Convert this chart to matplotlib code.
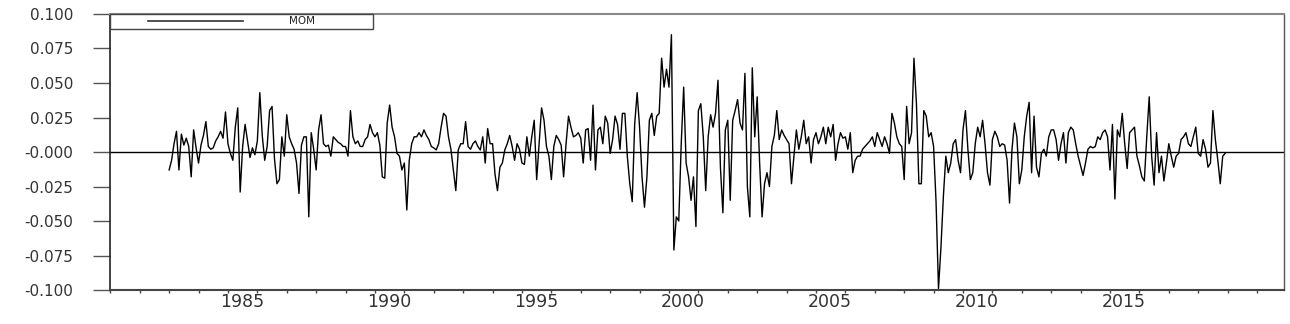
import numpy as np
import matplotlib
matplotlib.use("Agg")
import matplotlib.pyplot as plt
import matplotlib.transforms as mtransforms
from matplotlib.patches import Rectangle

# Monthly MOM factor values (Jan 1983 - Dec 2018)
start_year = 1983

mom_1983_1989 = [
    -0.013, -0.006, 0.006, 0.015, -0.013, 0.013, 0.005, 0.010, 0.004, -0.018, 0.016, 0.003,   # 1983
    -0.008, 0.005, 0.012, 0.022, 0.004, 0.002, 0.003, 0.008, 0.011, 0.015, 0.010, 0.029,      # 1984
    0.006, -0.001, -0.006, 0.018, 0.032, -0.029, 0.004, 0.020, 0.008, -0.004, 0.003, -0.002,  # 1985
    0.008, 0.043, 0.012, -0.006, 0.004, 0.030, 0.033, -0.005, -0.023, -0.020, 0.011, -0.003,  # 1986
    0.027, 0.011, 0.006, 0.002, -0.008, -0.030, 0.005, 0.011, 0.011, -0.047, 0.014, 0.002,    # 1987
    -0.013, 0.016, 0.027, 0.006, 0.004, 0.005, -0.003, 0.011, 0.009, 0.007, 0.006, 0.004,     # 1988
    0.004, -0.003, 0.030, 0.011, 0.006, 0.008, 0.004, 0.004, 0.009, 0.011, 0.020, 0.014,      # 1989
]

mom_1990s = [
    0.011, 0.014, 0.005, -0.018, -0.019, 0.021, 0.034, 0.018, 0.011, -0.001, -0.003, -0.013,  # 1990
    -0.008, -0.042, -0.006, 0.006, 0.011, 0.011, 0.014, 0.011, 0.016, 0.012, 0.009, 0.004,    # 1991
    0.003, 0.0015, 0.006, 0.018, 0.028, 0.026, 0.011, 0.002, -0.013, -0.028, 0.0015, 0.006,   # 1992
    0.006, 0.022, 0.004, 0.002, 0.006, 0.008, 0.004, 0.0015, 0.011, -0.008, 0.017, 0.006,     # 1993
    0.006, -0.016, -0.028, -0.011, -0.008, 0.0015, 0.006, 0.012, 0.004, -0.006, 0.006, 0.002, # 1994
    -0.008, -0.009, 0.011, -0.003, 0.011, 0.023, -0.020, 0.006, 0.032, 0.023, 0.004, -0.003,  # 1995
    -0.020, 0.004, 0.012, 0.009, 0.005, -0.018, 0.006, 0.026, 0.018, 0.011, 0.012, 0.014,     # 1996
    0.010, -0.008, 0.016, 0.017, -0.006, 0.034, -0.013, 0.016, 0.018, 0.006, 0.026, 0.021,    # 1997
    -0.001, 0.009, 0.026, 0.020, 0.002, 0.028, 0.028, -0.003, -0.023, -0.036, 0.020, 0.043,   # 1998
    0.018, -0.018, -0.040, -0.018, 0.023, 0.028, 0.012, 0.026, 0.028, 0.068, 0.047, 0.060,    # 1999
]

mom_2000s = [
    0.047, 0.085, -0.071, -0.047, -0.050, 0.006, 0.047, -0.008, -0.018, -0.035, -0.018, -0.054,  # 2000
    0.030, 0.035, 0.011, -0.028, 0.011, 0.027, 0.018, 0.028, 0.052, -0.011, -0.044, 0.016,       # 2001
    0.023, -0.035, 0.023, 0.030, 0.038, 0.021, 0.016, 0.057, -0.025, -0.047, 0.061, 0.011,       # 2002
    0.040, -0.008, -0.047, -0.023, -0.015, -0.025, 0.004, 0.012, 0.030, 0.009, 0.016, 0.012,     # 2003
    0.009, 0.006, -0.023, -0.003, 0.016, 0.002, 0.011, 0.023, 0.006, 0.011, -0.008, 0.009,       # 2004
    0.014, 0.006, 0.011, 0.018, 0.006, 0.018, 0.011, 0.020, -0.006, 0.006, 0.014, 0.010,         # 2005
    0.011, 0.002, 0.014, -0.015, -0.006, -0.003, -0.003, 0.002, 0.004, 0.006, 0.008, 0.011,      # 2006
    0.004, 0.014, 0.009, 0.004, 0.011, 0.006, -0.001, 0.028, 0.021, 0.011, 0.006, 0.004,         # 2007
    -0.020, 0.033, 0.006, 0.014, 0.068, 0.035, -0.023, -0.023, 0.030, 0.026, 0.011, 0.014,       # 2008
    0.004, -0.036, -0.099, -0.069, -0.032, -0.003, -0.015, -0.008, 0.006, 0.009, -0.006, -0.015, # 2009
]

mom_2010s = [
    0.016, 0.030, 0.002, -0.020, -0.015, 0.006, 0.018, 0.011, 0.023, 0.006, -0.015, -0.024,     # 2010
    0.009, 0.015, 0.011, 0.004, 0.006, 0.005, -0.006, -0.037, 0.002, 0.021, 0.011, -0.023,      # 2011
    -0.013, 0.011, 0.026, 0.036, -0.015, 0.026, -0.011, -0.018, -0.001, 0.002, -0.003, 0.011,   # 2012
    0.016, 0.016, 0.009, -0.006, 0.006, 0.014, -0.008, 0.014, 0.018, 0.016, 0.006, -0.003,      # 2013
    -0.010, -0.017, -0.008, 0.002, 0.004, 0.003, 0.004, 0.011, 0.009, 0.014, 0.016, 0.011,      # 2014
    -0.013, 0.020, -0.034, 0.016, 0.011, 0.028, 0.006, -0.012, 0.014, 0.016, 0.018, -0.003,     # 2015
    -0.010, -0.018, -0.021, 0.011, 0.040, -0.003, -0.024, 0.014, -0.015, -0.003, -0.021, -0.008,# 2016
    0.006, -0.003, -0.011, -0.003, -0.001, 0.009, 0.011, 0.014, 0.006, 0.004, 0.011, 0.018,     # 2017
    -0.001, -0.003, 0.009, 0.002, -0.011, -0.008, 0.030, 0.009, -0.006, -0.023, -0.003, -0.001, # 2018
]

series_label = "MOM"
y_ticks = [-0.100, -0.075, -0.050, -0.025, 0.0, 0.025, 0.050, 0.075, 0.100]
y_tick_labels = ["-0.100", "-0.075", "-0.050", "-0.025", "-0.000",
                 "0.025", "0.050", "0.075", "0.100"]
x_label_years = [1985, 1990, 1995, 2000, 2005, 2010, 2015]
x_minor_years = list(range(1981, 2021))

mom = np.array(mom_1983_1989 + mom_1990s + mom_2000s + mom_2010s)
dates = start_year + np.arange(len(mom)) / 12.0

fig = plt.figure(figsize=(12.9, 3.24), dpi=100)
ax = fig.add_axes([0.0853, 0.1049, 0.9101, 0.8519])

ax.plot(dates, mom, color="black", lw=1.0)
ax.axhline(0, color="black", lw=1.0)

ax.set_xlim(1980.99, 2020.92)
ax.set_ylim(-0.1, 0.1)

# y axis: long outward ticks, RATS style labels
ax.set_yticks(y_ticks)
ax.set_yticklabels(y_tick_labels)
ax.tick_params(axis="y", direction="out", length=12.5, width=1.0, color="#555555",
               labelsize=11, labelcolor="#333333", pad=14)

# x axis: yearly short ticks, labels every five years
ax.set_xticks(x_label_years)
ax.set_xticklabels([str(y) for y in x_label_years])
ax.set_xticks(x_minor_years, minor=True)
ax.tick_params(axis="x", which="both", direction="out", length=2.5, width=1.0,
               color="#444444", labelsize=12.5, labelcolor="#333333", pad=0)
offset = mtransforms.ScaledTranslation(-8 / 100, 0, fig.dpi_scale_trans)
for lbl in ax.get_xticklabels():
    lbl.set_horizontalalignment("left")
    lbl.set_transform(lbl.get_transform() + offset)

ax.spines["left"].set_color("#222222")
ax.spines["left"].set_linewidth(1.2)
ax.spines["bottom"].set_color("#444444")
ax.spines["bottom"].set_linewidth(1.5)
ax.spines["top"].set_color("#888888")
ax.spines["top"].set_linewidth(1.5)
ax.spines["right"].set_color("#555555")
ax.spines["right"].set_linewidth(1.0)

# legend box in the top-left corner
ax.add_patch(Rectangle((0, 0.9457), 0.224, 0.0543, transform=ax.transAxes,
                       facecolor="white", edgecolor="#444444", lw=1.0, clip_on=False, zorder=5))
ax.plot([0.0324, 0.1133], [0.9746, 0.9746], transform=ax.transAxes,
        color="#333333", lw=1.2, zorder=6)
ax.text(0.1635, 0.9746, series_label, transform=ax.transAxes, fontsize=7.5,
        ha="center", va="center", color="#222222", zorder=6)

fig.savefig("out.png", dpi=100)
